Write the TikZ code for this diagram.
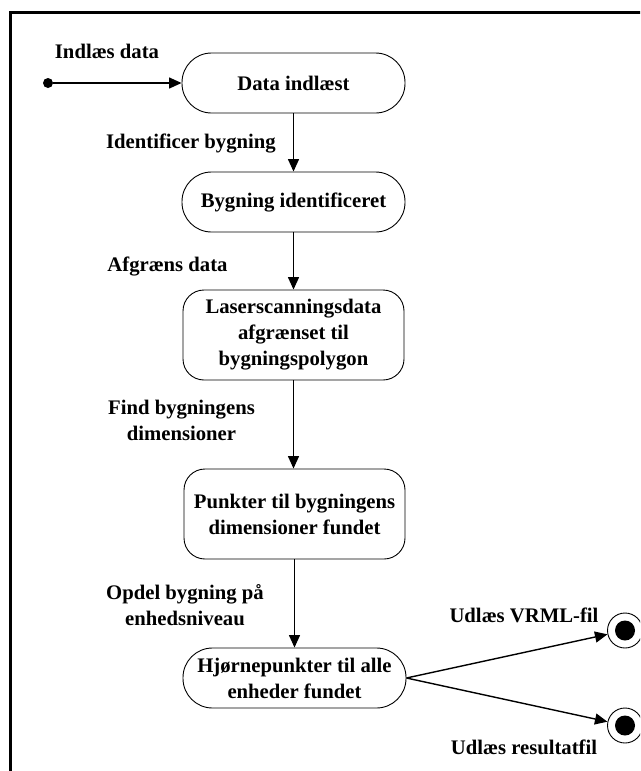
\documentclass[tikz,border=0pt]{standalone}
\usepackage{fontspec}
\setmainfont{Liberation Serif}
\usetikzlibrary{arrows.meta}
\begin{document}
\begin{tikzpicture}[x=1pt,y=-1pt,
  txt/.style={font=\fontsize{20.7}{26}\selectfont\bfseries, align=center, inner sep=0pt},
  stadium/.style={txt, draw, line width=0.9pt, minimum width=223pt, minimum height=60pt, rounded corners=29.5pt},
  statebox/.style={txt, draw, line width=0.9pt, minimum width=221pt, minimum height=90pt, rounded corners=21pt},
  lbl/.style={txt},
  flow/.style={line width=1.4pt, -{Triangle[length=12.5pt,width=11pt]}},
  enddisk/.style={circle, draw, line width=0.9pt, minimum size=35pt, inner sep=0pt, fill=white}
]
\useasboundingbox (0,0) rectangle (640,771);
\clip (0,0) rectangle (640,771);

% outer frame
\draw[line width=2.6pt] (10.3,12.3) rectangle (700,820);

% states
\node[stadium]  (s1) at (293.5,83)  {Data indlæst};
\node[stadium]  (s2) at (293.5,202) {Bygning identificeret};
\node[statebox] (s3) at (293.5,335) {Laserscanningsdata\\afgrænset til\\bygningspolygon};
\node[statebox] (s4) at (294.5,514) {Punkter til bygningens\\dimensioner fundet};
\node[stadium]  (s5) at (294.5,678) {Hjørnepunkter til alle\\enheder fundet};

% initial and final states
\node[circle, fill, minimum size=10pt, inner sep=0pt] (start) at (48,83) {};
\node[enddisk] (e1) at (625,630.5) {};
\node[circle, fill, minimum size=20pt, inner sep=0pt] at (e1) {};
\node[enddisk] (e2) at (625,725.5) {};
\node[circle, fill, minimum size=20pt, inner sep=0pt] at (e2) {};

% transitions
\draw[flow] (start) -- (s1);
\draw[flow] (s1) -- (s2);
\draw[flow] (s2) -- (s3);
\draw[flow] (s3.south -| s3.center) -- (s4.north -| s3.center);
\draw[flow] (s4.south) -- (s5.north);
\draw[flow] (s5.east) -- (e1);
\draw[flow] (s5.east) -- (e2);

% transition labels
\node[lbl] (l0) at (107,51)    {Indlæs data};
\node[lbl] (l1) at (191,143)   {Identificer bygning};
\node[lbl] (l2) at (167.5,266) {Afgræns data};
\node[lbl] (l3) at (181.5,420) {Find bygningens\\dimensioner};
\node[lbl] (l4) at (185,605)   {Opdel bygning på\\enhedsniveau};
\node[lbl] (l5) at (524,615)   {Udlæs VRML-fil};
\node[lbl] (l6) at (524,747)   {Udlæs resultatfil};
\end{tikzpicture}
\end{document}
